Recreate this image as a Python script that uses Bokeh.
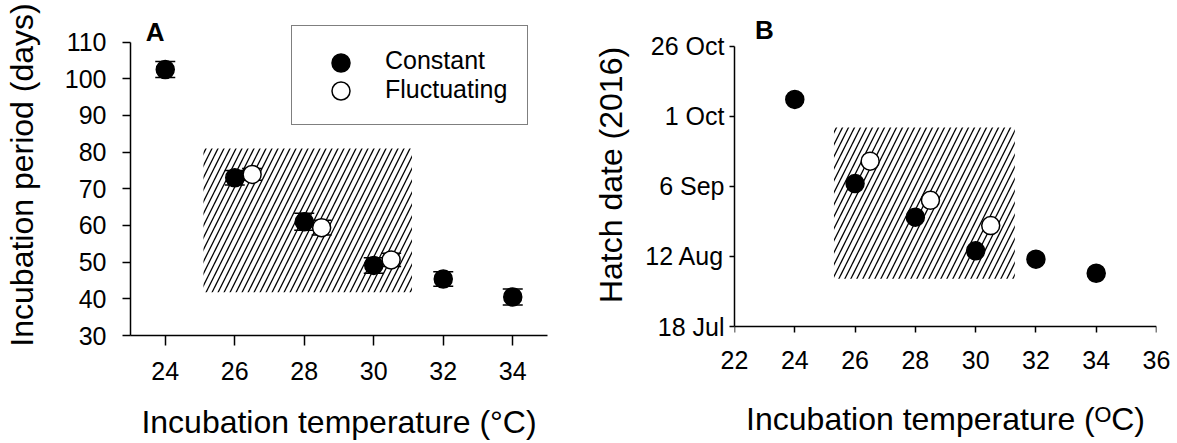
import pandas as pd
from bokeh.plotting import figure
from bokeh.models import (ColumnDataSource, Whisker, TeeHead, Legend, LegendItem,
                          FixedTicker, Range1d, Label, LinearAxis)
from bokeh.layouts import row
from bokeh.embed import file_html
from bokeh.resources import INLINE

FONT = "Liberation Sans"

# ---------------- Panel A data ----------------
temp_const = [24, 26, 28, 30, 32, 34]
period_const = [102.5, 73.0, 61.0, 49.1, 45.4, 40.5]
period_const_err = [2.2, 2.0, 2.3, 2.1, 2.0, 2.2]
temp_fluct = [26.5, 28.5, 30.5]
period_fluct = [73.9, 59.4, 50.6]
period_fluct_err = [1.6, 2.0, 1.8]
shade_temp_a = [25.1, 31.1]
shade_period_a = [41.8, 81.0]
xticks_a = [24, 26, 28, 30, 32, 34]
yticks_a = [30, 40, 50, 60, 70, 80, 90, 100, 110]

# ---------------- Panel B data ----------------
hatch_const = ["2016-10-07", "2016-09-07", "2016-08-26", "2016-08-14", "2016-08-11", "2016-08-06"]
hatch_fluct = ["2016-09-15", "2016-09-01", "2016-08-23"]
hatch_fluct_err_days = [2.0, 2.0, 2.0]
shade_temp_b = [25.3, 31.3]
shade_date_b = ["2016-08-04", "2016-09-27"]
ytick_dates_b = ["2016-07-18", "2016-08-12", "2016-09-06", "2016-10-01", "2016-10-26"]
ytick_labels_b = ["18 Jul", "12 Aug", "6 Sep", "1 Oct", "26 Oct"]
xticks_b = [22, 24, 26, 28, 30, 32, 34, 36]

ORIGIN = pd.Timestamp(ytick_dates_b[0])


def days(dates):
    return [float((pd.Timestamp(d) - ORIGIN).days) for d in dates]


def style_axis(ax):
    ax.axis_line_width = 1.5
    ax.axis_line_color = "black"
    ax.major_tick_line_width = 1.5
    ax.major_tick_line_color = "black"
    ax.major_tick_in = 0
    ax.minor_tick_line_color = None
    ax.major_label_text_font = FONT
    ax.major_label_text_font_size = "25px"
    ax.major_label_text_color = "black"
    ax.axis_label_text_font = FONT
    ax.axis_label_text_font_size = "32px"
    ax.axis_label_text_font_style = "normal"
    ax.axis_label_text_color = "black"


def style(p, tick_x, tick_y):
    p.outline_line_color = None
    p.background_fill_color = "white"
    p.border_fill_color = "white"
    p.xgrid.visible = False
    p.ygrid.visible = False
    style_axis(p.xaxis[0])
    style_axis(p.yaxis[0])
    p.xaxis[0].major_tick_out = tick_x
    p.yaxis[0].major_tick_out = tick_y


def hatch_box(p, xs, ys):
    p.quad(left=[xs[0]], right=[xs[1]], bottom=[ys[0]], top=[ys[1]],
           fill_alpha=0, line_alpha=0, hatch_pattern="/", hatch_color="black",
           hatch_weight=1.3, hatch_scale=12, level="underlay")


def add_whiskers(p, src, size):
    w = Whisker(base="x", lower="lo", upper="hi", source=src, line_width=1.5, line_color="black",
                upper_head=TeeHead(size=size, line_width=1.5, line_color="black"),
                lower_head=TeeHead(size=size, line_width=1.5, line_color="black"),
                level="underlay")
    p.add_layout(w)


# ================= Panel A =================
pa = figure(width=590, height=443, output_backend="svg", toolbar_location=None,
            x_range=Range1d(23, 35), y_range=Range1d(30, 117.5),
            min_border_left=126, min_border_right=43, min_border_top=14, min_border_bottom=108)
style(pa, 10, 8)
pa.xaxis[0].ticker = FixedTicker(ticks=xticks_a)
pa.yaxis[0].ticker = FixedTicker(ticks=yticks_a)
pa.yaxis[0].bounds = (30, 110)
pa.xaxis[0].axis_label = "Incubation temperature (\u00b0C)"
pa.yaxis[0].axis_label = "Incubation period (days)"
pa.xaxis[0].major_label_standoff = 16
pa.xaxis[0].axis_label_standoff = 21
pa.yaxis[0].major_label_standoff = 16
pa.yaxis[0].axis_label_standoff = 22

hatch_box(pa, shade_temp_a, shade_period_a)

src_ac = ColumnDataSource(dict(x=temp_const, y=period_const,
                               lo=[v - e for v, e in zip(period_const, period_const_err)],
                               hi=[v + e for v, e in zip(period_const, period_const_err)]))
src_af = ColumnDataSource(dict(x=temp_fluct, y=period_fluct,
                               lo=[v - e for v, e in zip(period_fluct, period_fluct_err)],
                               hi=[v + e for v, e in zip(period_fluct, period_fluct_err)]))
add_whiskers(pa, src_ac, 20)
add_whiskers(pa, src_af, 20)

r_const = pa.scatter("x", "y", source=src_ac, size=18, fill_color="black", line_color="black", line_width=1.5)
r_fluct = pa.scatter("x", "y", source=src_af, size=18, fill_color="white", line_color="black", line_width=1.5)

# legend box with labels
legend = Legend(items=[LegendItem(label="Constant", renderers=[r_const]),
                       LegendItem(label="Fluctuating", renderers=[r_fluct])],
                location=(161, 210), padding=20, spacing=0, margin=0,
                glyph_width=60, glyph_height=28, label_height=28, label_standoff=13,
                label_text_font=FONT, label_text_font_size="25px", label_text_color="black",
                border_line_color="black", border_line_width=1.5,
                background_fill_color="white", background_fill_alpha=1)
pa.add_layout(legend, "center")
# full-size legend markers laid over the small default ones
for item, loc in ((LegendItem(label="", renderers=[r_const]), (188, 250)),
                  (LegendItem(label="", renderers=[r_fluct]), (188, 222))):
    pa.add_layout(Legend(items=[item], location=loc, padding=0, spacing=0, margin=0,
                         glyph_width=45, glyph_height=45, label_width=0, label_height=0,
                         label_standoff=0, label_text_font_size="1px",
                         border_line_color=None, background_fill_alpha=0), "center")

pa.add_layout(Label(x=23.44, y=112.6, text="A", text_font=FONT, text_font_size="26px",
                    text_font_style="bold", text_color="black", text_baseline="alphabetic"))

# ================= Panel B =================
# frames in a row share top/bottom, so panel B's x axis line is pinned at the first date tick
pb = figure(width=587, height=443, output_backend="svg", toolbar_location=None,
            x_range=Range1d(22, 36), y_range=Range1d(-3.21, 111.31),
            min_border_left=142, min_border_right=21, min_border_top=14, min_border_bottom=108)
style(pb, 0, 5)
ytick_vals = days(ytick_dates_b)
# labels + title axis (line and ticks hidden)
xb = pb.xaxis[0]
xb.ticker = FixedTicker(ticks=xticks_b)
xb.axis_line_color = None
xb.major_tick_line_color = None
xb.major_label_standoff = 15
xb.axis_label = "Incubation temperature (\u1d3cC)"
xb.axis_label_standoff = 29
# line + ticks axis at 18 Jul
xb_line = LinearAxis(ticker=FixedTicker(ticks=xticks_b), fixed_location=ytick_vals[0],
                     major_label_overrides={t: "" for t in xticks_b})
style_axis(xb_line)
xb_line.major_label_text_font_size = "1px"
xb_line.major_label_standoff = 0
xb_line.major_tick_out = 6
pb.add_layout(xb_line, "below")

pb.yaxis[0].ticker = FixedTicker(ticks=ytick_vals)
pb.yaxis[0].bounds = (ytick_vals[0], ytick_vals[-1])
pb.yaxis[0].major_label_overrides = {v: lab for v, lab in zip(ytick_vals, ytick_labels_b)}
pb.yaxis[0].axis_label = "Hatch date (2016)"
pb.yaxis[0].major_label_standoff = 5
pb.yaxis[0].axis_label_standoff = 13

hatch_box(pb, shade_temp_b, days(shade_date_b))

yc = days(hatch_const)
yf = days(hatch_fluct)
src_bc = ColumnDataSource(dict(x=temp_const, y=yc))
src_bf = ColumnDataSource(dict(x=temp_fluct, y=yf,
                               lo=[v - e for v, e in zip(yf, hatch_fluct_err_days)],
                               hi=[v + e for v, e in zip(yf, hatch_fluct_err_days)]))
add_whiskers(pb, src_bf, 14)
pb.scatter("x", "y", source=src_bc, size=18, fill_color="black", line_color="black", line_width=1.5)
pb.scatter("x", "y", source=src_bf, size=18, fill_color="white", line_color="black", line_width=1.5)

pb.add_layout(Label(x=22.68, y=105.7, text="B", text_font=FONT, text_font_size="26px",
                    text_font_style="bold", text_color="black", text_baseline="alphabetic"))

layout = row(pa, pb)
open("out.html", "w").write(file_html(layout, INLINE))
